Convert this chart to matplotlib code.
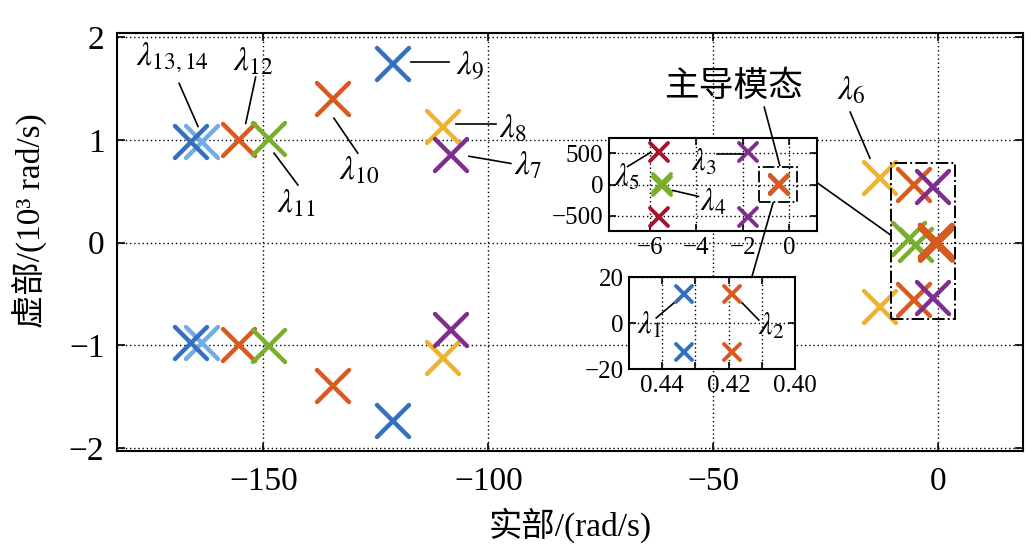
import matplotlib.pyplot as plt
from matplotlib.markers import MarkerStyle
from matplotlib.patches import Rectangle, ConnectionPatch

plt.rcParams['font.family'] = ['Liberation Serif', 'Noto Sans CJK SC']
plt.rcParams['mathtext.fontset'] = 'stix'

BLUE = '#3570BE'
LBLUE = '#72ACE2'
ORANGE = '#D95A1E'
YELLOW = '#EDB232'
PURPLE = '#7E2F8E'
GREEN = '#7AAE2E'
DRED = '#A2142F'

# main plane: real part (rad/s), imaginary part (10^3 rad/s), conjugate pairs
main_re = [-163.7, -166.0, -155.3, -148.7, -134.5, -121.2, -110.1, -108.3,
           -12.9, -5.5, -1.3, -0.4335, -0.4191]
main_im = [0.98, 0.98, 1.00, 1.01, 1.40, 1.74, 1.12, 0.85,
           0.63, 0.56, 0.54, 0.0128, 0.0128]
main_colors = [LBLUE, BLUE, ORANGE, GREEN, ORANGE, BLUE, YELLOW, PURPLE,
               YELLOW, ORANGE, PURPLE, BLUE, ORANGE]

# lambda4 pair, nearly on the real axis
l4_re = [-6.6, -5.0]
l4_im = [0.03, -0.02]

# inset 1: modes close to the imaginary axis (rad/s)
in1_re = [-5.6, -5.45, -1.75, -0.4335, -0.4191]
in1_im = [520, 25, 520, 12.8, 12.8]
in1_colors = [DRED, GREEN, PURPLE, BLUE, ORANGE]

# inset 2: dominant modes (rad/s)
in2_re = [-0.4335, -0.4191]
in2_im = [12.8, 12.8]
in2_colors = [BLUE, ORANGE]

W, H = 1027, 547
fig = plt.figure(figsize=(W / 100, H / 100), dpi=100)


def px_axes(l, t, r, b):
    return fig.add_axes([l / W, (H - b) / H, (r - l) / W, (b - t) / H])


def cross(ax, x, y, c, ms, mew):
    ax.plot(x, y, linestyle='none', color=c,
            marker=MarkerStyle('x', capstyle='round'), ms=ms, mew=mew)


def style_axes(ax, size):
    ax.tick_params(direction='in', top=True, right=True, labelsize=size, width=1.2)
    for s in ax.spines.values():
        s.set_linewidth(1.5)
    ax.grid(True, color='k', linestyle=(0, (1, 2)), linewidth=1.0)


# ---- main axes
ax = px_axes(117, 33, 1023, 451)
for x, y, c in zip(main_re, main_im, main_colors):
    cross(ax, [x, x], [y, -y], c, 23, 3.2)
for x, y in zip(l4_re, l4_im):
    cross(ax, x, y, GREEN, 23, 3.2)
# dominant pair drawn last on top
cross(ax, [main_re[-1]] * 2, [main_im[-1], -main_im[-1]], ORANGE, 23, 3.6)

ax.set_xlim(-182.5, 18.8)
ax.set_ylim(-2.03, 2.04)
ax.set_xticks([-150, -100, -50, 0])
ax.set_yticks([-2, -1, 0, 1, 2])
style_axes(ax, 24)
ax.tick_params(axis='x', pad=11, length=6)
ax.tick_params(axis='y', pad=9, length=6)
ax.set_xlabel('实部/(rad/s)', fontsize=24, labelpad=8)
ax.set_ylabel('虚部/(10³ rad/s)', fontsize=24)
ax.yaxis.set_label_coords(-0.077, 0.55)

ax.add_patch(Rectangle((-10.5, -0.745), 14.16, 1.52, fill=False, ec='k',
                       lw=1.4, ls='-.', zorder=4))

labels = [
    (r'$\lambda_{13,14}$', (-170.2, 1.80), (-168.7, 1.55), (-164.5, 1.13)),
    (r'$\lambda_{12}$', (-152.2, 1.76), (-151.7, 1.61), (-153.9, 1.16)),
    (r'$\lambda_{11}$', (-142.7, 0.38), (-147.6, 0.87), (-142.3, 0.56)),
    (r'$\lambda_{10}$', (-128.7, 0.70), (-134.3, 1.21), (-129.0, 0.87)),
    (r'$\lambda_{9}$', (-104.1, 1.72), (-117.2, 1.76), (-108.8, 1.76)),
    (r'$\lambda_{8}$', (-94.6, 1.11), (-107.2, 1.15), (-98.3, 1.15)),
    (r'$\lambda_{7}$', (-91.2, 0.75), (-104.3, 0.84), (-95.0, 0.77)),
    (r'$\lambda_{6}$', (-19.4, 1.48), (-19.6, 1.27), (-15.2, 0.82)),
]
for txt, pos, p0, p1 in labels:
    ax.text(pos[0], pos[1], txt, fontsize=24, ha='center', va='center')
    ax.plot([p0[0], p1[0]], [p0[1], p1[1]], color='k', lw=1.2)
ax.text(-45.6, 1.52, '主导模态', fontsize=25, ha='center', va='center',
        family=['Noto Sans CJK SC'])

# ---- inset 1
ax1 = px_axes(609, 138, 817, 231)
for x, y, c in zip(in1_re, in1_im, in1_colors):
    cross(ax1, [x, x], [y, -y], c, 13, 2.8)
ax1.set_xlim(-7.75, 1.2)
ax1.set_ylim(-740, 740)
ax1.set_xticks([-6, -4, -2, 0])
ax1.set_yticks([-500, 0, 500])
style_axes(ax1, 18)
ax1.tick_params(pad=4, length=5)
ax1.add_patch(Rectangle((-1.29, -286), 1.63, 572, fill=False, ec='k',
                        lw=1.3, ls='-.', zorder=4))
in1_labels = [
    (r'$\lambda_5$', (-7.0, 110), (-6.95, 286), (-5.97, 508)),
    (r'$\lambda_3$', (-3.69, 350), (-3.1, 490), (-2.0, 490)),
    (r'$\lambda_4$', (-3.26, -290), (-5.0, -95), (-3.9, -190)),
]
for txt, pos, p0, p1 in in1_labels:
    ax1.text(pos[0], pos[1], txt, fontsize=22, ha='center', va='center')
    ax1.plot([p0[0], p1[0]], [p0[1], p1[1]], color='k', lw=1.2)

# ---- inset 2
ax2 = px_axes(629, 277, 795, 369)
for x, y, c in zip(in2_re, in2_im, in2_colors):
    cross(ax2, [x, x], [y, -y], c, 12, 2.8)
ax2.set_xlim(-0.45, -0.401)
ax2.set_ylim(-20, 20)
ax2.set_xticks([-0.44, -0.43, -0.42, -0.41, -0.40],
               labels=['0.44', '', '0.42', '', '0.40'])
ax2.set_yticks([-20, 0, 20])
style_axes(ax2, 18)
ax2.tick_params(pad=4, length=5)
in2_labels = [
    (r'$\lambda_1$', (-0.4438, -1.0), (-0.4418, 2.2), (-0.4365, 8.7)),
    (r'$\lambda_2$', (-0.4071, -1.5), (-0.4159, 8.7), (-0.4109, 1.3)),
]
for txt, pos, p0, p1 in in2_labels:
    ax2.text(pos[0], pos[1], txt, fontsize=22, ha='center', va='center')
    ax2.plot([p0[0], p1[0]], [p0[1], p1[1]], color='k', lw=1.2)

# ---- connectors between axes
links = [
    ((1.0, 0.52), ax1.transAxes, ax1, (-10.5, 0.07), ax.transData, ax),
    ((-38.7, 1.32), ax.transData, ax, (-0.4, 300), ax1.transData, ax1),
    ((-0.69, -290), ax1.transData, ax1, (0.74, 1.0), ax2.transAxes, ax2),
]
for xyA, cA, aA, xyB, cB, aB in links:
    con = ConnectionPatch(xyA=xyA, coordsA=cA, axesA=aA, xyB=xyB, coordsB=cB,
                          axesB=aB, color='k', lw=1.2, zorder=6)
    fig.add_artist(con)

fig.savefig('out.png', dpi=100)
